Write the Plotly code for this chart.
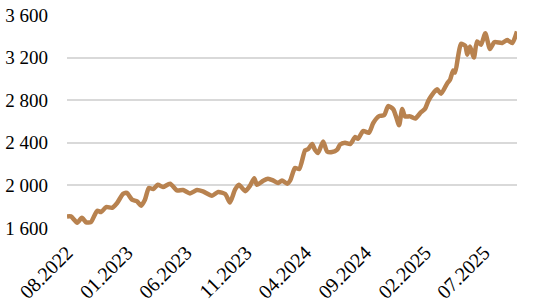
import plotly.graph_objects as go

dates = [
    "2022-08-01", "2022-08-11", "2022-08-27", "2022-09-08", "2022-09-19", "2022-10-01",
    "2022-10-17", "2022-10-27", "2022-11-09", "2022-11-24", "2022-12-07", "2022-12-22",
    "2023-01-01", "2023-01-14", "2023-01-27", "2023-02-06", "2023-02-16", "2023-02-26",
    "2023-03-09", "2023-03-21", "2023-04-03", "2023-04-21", "2023-05-09", "2023-05-24",
    "2023-06-11", "2023-06-29", "2023-07-14", "2023-08-06", "2023-08-22", "2023-09-09",
    "2023-09-21", "2023-10-04", "2023-10-14", "2023-10-30", "2023-11-11", "2023-11-22",
    "2023-11-29", "2023-12-15", "2023-12-27", "2024-01-09", "2024-01-22", "2024-02-01",
    "2024-02-14", "2024-02-22", "2024-03-05", "2024-03-16", "2024-03-31", "2024-04-08",
    "2024-04-18", "2024-04-25", "2024-05-03", "2024-05-16", "2024-05-26", "2024-06-08",
    "2024-06-21", "2024-06-28", "2024-07-11", "2024-07-24", "2024-08-06", "2024-08-13",
    "2024-08-26", "2024-09-10", "2024-09-21", "2024-10-06", "2024-10-19", "2024-10-29",
    "2024-11-11", "2024-11-18", "2024-11-26", "2024-12-04", "2024-12-11", "2024-12-24",
    "2025-01-06", "2025-01-21", "2025-01-31", "2025-02-08", "2025-02-18", "2025-03-03",
    "2025-03-13", "2025-03-29", "2025-04-05", "2025-04-13", "2025-04-18", "2025-04-26",
    "2025-05-03", "2025-05-14", "2025-05-19", "2025-05-26", "2025-06-05", "2025-06-13",
    "2025-06-23", "2025-07-04", "2025-07-16", "2025-07-27", "2025-08-16", "2025-08-29",
    "2025-09-11", "2025-09-23",
]
prices = [
    1709, 1709, 1650, 1697, 1653, 1655,
    1762, 1750, 1797, 1790, 1835, 1920,
    1929, 1866, 1850, 1810, 1866, 1976,
    1966, 2006, 1985, 2016, 1953, 1957,
    1925, 1957, 1944, 1903, 1938, 1919,
    1840, 1960, 2006, 1946, 1995, 2066,
    2006, 2044, 2063, 2047, 2022, 2047,
    2016, 2047, 2163, 2154, 2329, 2342,
    2389, 2335, 2304, 2413, 2319, 2313,
    2335, 2383, 2400, 2388, 2455, 2437,
    2510, 2495, 2586, 2650, 2660, 2745,
    2715, 2648, 2565, 2718, 2648, 2648,
    2628, 2688, 2718, 2789, 2850, 2902,
    2860, 2960, 2992, 3080, 3060, 3220,
    3330, 3310, 3227, 3305, 3200, 3352,
    3320, 3428, 3281, 3345, 3337, 3365,
    3337, 3446,
]

y_range = [1600, 3600]
y_dtick = 400
x_tick0 = "2022-08-01"
x_dtick = "M5"

FONT = "Liberation Serif, Times New Roman, serif"

fig = go.Figure()
fig.add_trace(go.Scatter(
    x=dates, y=prices, mode="lines",
    line=dict(color="#B8824F", width=4.5, shape="spline", smoothing=0.6),
    showlegend=False, hoverinfo="skip",
))

fig.update_layout(
    width=547, height=308,
    margin=dict(l=67, r=30, t=15, b=80, autoexpand=False),
    paper_bgcolor="white", plot_bgcolor="white",
    separators=". ",
    font=dict(family=FONT, size=19, color="#000000"),
)
fig.update_xaxes(
    type="date",
    range=[dates[0], dates[-1]],
    tick0=x_tick0, dtick=x_dtick, tickformat="%m.%Y",
    tickangle=-45, showgrid=False, zeroline=False, showline=False,
    ticks="", ticklabelstandoff=8, automargin=False,
    tickfont=dict(family=FONT, size=20, color="#000000"),
)
fig.update_yaxes(
    range=y_range, dtick=y_dtick, tick0=y_range[0], tickformat=",d",
    showgrid=True, gridcolor="#D9D9D9", gridwidth=1.5, automargin=False,
    zeroline=False, showline=False, ticks="", ticklabelstandoff=18,
    tickfont=dict(family=FONT, size=19, color="#000000"),
)

fig.write_html("out.html")
